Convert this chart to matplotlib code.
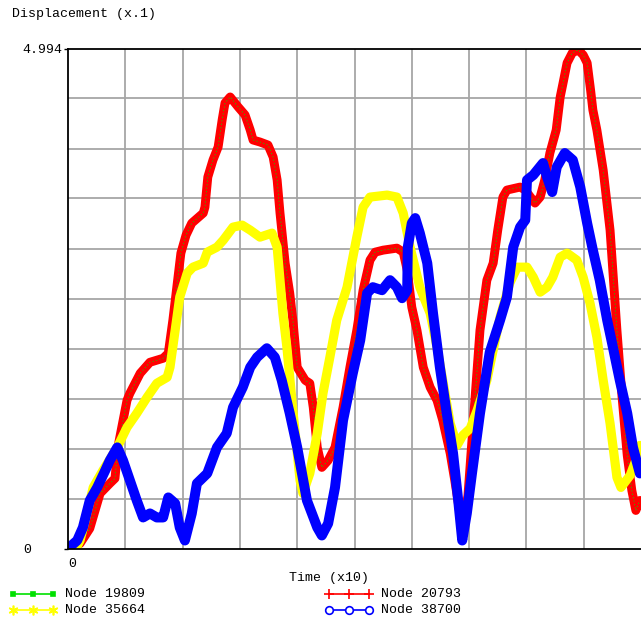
import matplotlib
matplotlib.use("Agg")
import matplotlib.pyplot as plt
from matplotlib.lines import Line2D

# ---- data -------------------------------------------------------------
Y_MAX = 4.994

# Node 20793 (also traced by Node 19809)
t_red = [0.00, 0.21, 0.38, 0.56, 0.73, 0.82, 0.87, 1.03, 1.08, 1.26, 1.43, 1.66,
         1.75, 1.83, 1.97, 2.06, 2.16, 2.36, 2.39, 2.44, 2.53, 2.62, 2.69, 2.74,
         2.83, 2.97, 3.09, 3.18, 3.23, 3.35, 3.49, 3.58, 3.65, 3.70, 3.79, 3.87,
         3.93, 4.00, 4.14, 4.22, 4.28, 4.35, 4.43, 4.54, 4.66, 4.80, 4.92, 5.04,
         5.15, 5.27, 5.36, 5.50, 5.74, 5.85, 5.92, 6.00, 6.09, 6.20, 6.32, 6.44,
         6.54, 6.67, 6.75, 6.84, 6.88, 6.93, 6.98, 7.05, 7.19, 7.31, 7.42, 7.50,
         7.59, 7.66, 7.89, 7.98, 8.15, 8.24, 8.32, 8.41, 8.52, 8.59, 8.64, 8.71,
         8.80, 8.90, 8.99, 9.06, 9.12, 9.16, 9.23, 9.34, 9.46, 9.58, 9.67, 9.76,
         9.84, 9.91, 9.98]
y_red = [0.00, 0.05, 0.20, 0.55, 0.65, 0.70, 1.01, 1.48, 1.55, 1.75, 1.86, 1.90,
         1.95, 2.28, 2.95, 3.13, 3.25, 3.35, 3.41, 3.71, 3.88, 4.01, 4.28, 4.45,
         4.51, 4.41, 4.33, 4.18, 4.08, 4.06, 4.03, 3.91, 3.68, 3.35, 2.85, 2.55,
         2.25, 1.81, 1.68, 1.65, 1.41, 1.01, 0.81, 0.88, 1.01, 1.41, 1.81, 2.18,
         2.58, 2.88, 2.96, 2.98, 3.00, 2.96, 2.78, 2.41, 2.18, 1.81, 1.61, 1.48,
         1.28, 0.95, 0.68, 0.35, 0.25, 0.35, 0.53, 1.08, 2.18, 2.68, 2.85, 3.18,
         3.51, 3.58, 3.61, 3.58, 3.45, 3.51, 3.68, 3.95, 4.18, 4.51, 4.65, 4.85,
         4.95, 4.98, 4.93, 4.85, 4.58, 4.38, 4.18, 3.78, 3.18, 2.18, 1.51, 0.93,
         0.58, 0.38, 0.48]

# Node 35664
t_yel = [0.14, 0.21, 0.33, 0.44, 0.61, 0.86, 1.03, 1.20, 1.38, 1.55, 1.73, 1.78,
         1.87, 1.95, 2.08, 2.18, 2.36, 2.43, 2.60, 2.71, 2.88, 3.04, 3.18, 3.35,
         3.56, 3.65, 3.70, 3.75, 3.82, 3.93, 4.05, 4.10, 4.22, 4.35, 4.45, 4.57,
         4.69, 4.87, 5.04, 5.15, 5.27, 5.57, 5.74, 5.85, 5.97, 6.14, 6.32, 6.44,
         6.54, 6.67, 6.79, 6.89, 7.02, 7.14, 7.31, 7.54, 7.71, 7.84, 8.01, 8.12,
         8.24, 8.36, 8.46, 8.59, 8.71, 8.88, 8.99, 9.11, 9.23, 9.34, 9.46, 9.58,
         9.65, 9.81, 9.91, 9.98]
y_yel = [0.00, 0.08, 0.35, 0.61, 0.78, 1.01, 1.21, 1.35, 1.51, 1.65, 1.71, 1.81,
         2.18, 2.51, 2.75, 2.81, 2.85, 2.96, 3.01, 3.08, 3.21, 3.23, 3.18, 3.11,
         3.15, 3.01, 2.68, 2.35, 2.01, 1.35, 0.68, 0.55, 0.75, 1.15, 1.55, 1.91,
         2.28, 2.61, 3.11, 3.41, 3.51, 3.53, 3.51, 3.35, 3.01, 2.61, 2.35, 2.01,
         1.68, 1.25, 1.03, 1.13, 1.20, 1.38, 1.68, 2.31, 2.65, 2.81, 2.81, 2.71,
         2.56, 2.61, 2.71, 2.91, 2.95, 2.88, 2.71, 2.45, 2.11, 1.68, 1.25, 0.71,
         0.61, 0.73, 0.88, 1.03]

# Node 38700
t_blu = [0.00, 0.16, 0.26, 0.38, 0.51, 0.65, 0.73, 0.86, 0.96, 1.08, 1.20, 1.31,
         1.43, 1.55, 1.66, 1.75, 1.87, 1.95, 2.04, 2.16, 2.25, 2.43, 2.60, 2.77,
         2.88, 3.05, 3.18, 3.30, 3.47, 3.61, 3.73, 3.87, 4.00, 4.17, 4.35, 4.43,
         4.54, 4.66, 4.80, 4.97, 5.10, 5.22, 5.32, 5.48, 5.62, 5.74, 5.83, 5.92,
         5.93, 6.00, 6.06, 6.14, 6.27, 6.37, 6.49, 6.61, 6.72, 6.81, 6.88, 6.96,
         7.05, 7.19, 7.36, 7.54, 7.66, 7.77, 7.89, 7.98, 8.01, 8.12, 8.29, 8.36,
         8.45, 8.53, 8.67, 8.81, 8.94, 9.06, 9.16, 9.28, 9.41, 9.51, 9.63, 9.76,
         9.86, 9.98]
y_blu = [0.00, 0.08, 0.21, 0.48, 0.61, 0.78, 0.88, 1.01, 0.88, 0.68, 0.48, 0.31,
         0.35, 0.31, 0.31, 0.51, 0.45, 0.21, 0.08, 0.35, 0.65, 0.75, 1.01, 1.15,
         1.41, 1.61, 1.81, 1.91, 2.00, 1.91, 1.68, 1.35, 1.01, 0.48, 0.21, 0.13,
         0.25, 0.61, 1.28, 1.75, 2.08, 2.55, 2.61, 2.58, 2.68, 2.61, 2.50, 2.58,
         3.01, 3.25, 3.30, 3.15, 2.85, 2.35, 1.81, 1.35, 0.95, 0.48, 0.08, 0.35,
         0.75, 1.35, 1.96, 2.28, 2.51, 3.01, 3.21, 3.28, 3.68, 3.73, 3.85, 3.71,
         3.56, 3.81, 3.95, 3.88, 3.61, 3.25, 2.98, 2.68, 2.28, 2.01, 1.68, 1.35,
         1.01, 0.75]

series_names = ["Node 19809", "Node 20793", "Node 35664", "Node 38700"]

# ---- styling ----------------------------------------------------------
RED = "#ff0000"
GREEN = "#00e000"
YELLOW = "#ffff00"
BLUE = "#0000ff"
GRID = "#a6a6a6"
FONT = "Liberation Mono"
FS = 9.5

W, H = 641, 621
fig = plt.figure(figsize=(W / 100, H / 100), dpi=100)
plt.rcParams["font.family"] = [FONT, "DejaVu Sans Mono"]


def fx(px):
    return px / W


def fy(py):
    return 1 - py / H


left, right, top, bottom = 68, 641, 48.5, 548.5
ax = fig.add_axes([fx(left), fy(bottom), fx(right) - fx(left), (bottom - top) / H])
ax.set_xlim(0, 10)
ax.set_ylim(0, Y_MAX)

# grid
for gx in range(1, 10):
    ax.axvline(gx, color=GRID, lw=1.3, zorder=1)
for k in range(1, 10):
    ax.axhline(Y_MAX * k / 10, color=GRID, lw=1.3, zorder=1)

# curves
ax.plot(t_red, y_red, color=RED, lw=6.4, solid_joinstyle="round",
        solid_capstyle="round", zorder=3)
ax.plot(t_red, y_red, color=GREEN, lw=0.5, dashes=(2, 3), zorder=4)
ax.plot(t_yel, y_yel, color=YELLOW, lw=6.6, solid_joinstyle="round",
        solid_capstyle="round", zorder=5)
ax.plot(t_blu, y_blu, color=BLUE, lw=7.2, solid_joinstyle="round",
        solid_capstyle="round", zorder=6)

# spines
for s in ("left", "bottom", "top"):
    ax.spines[s].set_color("black")
    ax.spines[s].set_linewidth(1.3)
    ax.spines[s].set_zorder(7)
ax.spines["right"].set_visible(False)

# ticks
ax.set_yticks([0, Y_MAX])
ax.set_yticklabels(["0", "4.994"], fontsize=FS, family=FONT)
ax.tick_params(axis="y", direction="out", length=3, width=1, pad=29.5)
for lab in ax.get_yticklabels():
    lab.set_ha("left")
ax.set_xticks([0])
ax.set_xticklabels(["0"], fontsize=FS, family=FONT)
ax.tick_params(axis="x", length=0, pad=7)
for lab in ax.get_xticklabels():
    lab.set_ha("left")

# titles
fig.text(fx(12), fy(14), "Displacement (x.1)", fontsize=FS, family=FONT,
         ha="left", va="center")
fig.text(fx(329), fy(578), "Time (x10)", fontsize=FS, family=FONT,
         ha="center", va="center")

# legend
legend_specs = [
    (series_names[0], 13, 594, GREEN, "s", 2.5, GREEN, GREEN),
    (series_names[1], 329, 594, RED, "+", 7, RED, RED),
    (series_names[2], 13, 610, YELLOW, (6, 2, 0), 7, YELLOW, YELLOW),
    (series_names[3], 329, 610, BLUE, "o", 5.5, BLUE, "white"),
]
for name, x0, y0, col, mk, ms, mec, mfc in legend_specs:
    xs = [fx(x0), fx(x0 + 20), fx(x0 + 40)]
    ys = [fy(y0)] * 3
    fig.add_artist(Line2D(xs, ys, transform=fig.transFigure, color=col, lw=1.2,
                          marker=mk, ms=ms, mec=mec, mfc=mfc, mew=1.2))
    fig.text(fx(x0 + 52), fy(y0), name, fontsize=FS, family=FONT,
             ha="left", va="center")

fig.savefig("out.png", dpi=100)
